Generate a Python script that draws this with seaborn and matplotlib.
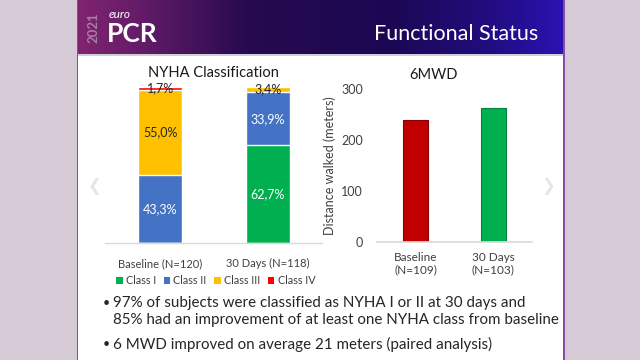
import numpy as np
import pandas as pd
import matplotlib
matplotlib.use("Agg")
import matplotlib.pyplot as plt
from matplotlib.patches import Rectangle, Patch
import seaborn as sns

# ---------------- data ----------------
nyha_groups = ["Baseline (N=120)", "30 Days (N=118)"]
nyha_classes = ["Class I", "Class II", "Class III", "Class IV"]
class_i = [0.0, 62.7]
class_ii = [43.3, 33.9]
class_iii = [55.0, 3.4]
class_iv = [1.7, 0.0]
nyha_labels = [["", "43,3%", "55,0%", "1,7%"], ["62,7%", "33,9%", "3,4%", ""]]

mwd_groups = ["Baseline\n(N=109)", "30 Days\n(N=103)"]
mwd_values = [239, 263]
mwd_ticks = [0, 100, 200, 300]

bullets = [
    "97% of subjects were classified as NYHA I or II at 30 days and\n85% had an improvement of at least one NYHA class from baseline",
    "6 MWD improved on average 21 meters (paired analysis)",
]

sns.set_theme(style="white")
plt.rcParams["font.family"] = ["Lato", "DejaVu Sans"]

W, H = 640, 360
fig = plt.figure(figsize=(6.4, 3.6), dpi=100)
fig.patch.set_facecolor("#d6cad6")

def fx(px):
    return px / W

def fy(py):
    return 1 - py / H

# slide
fig.patches.append(Rectangle((fx(77), 0), fx(564) - fx(77), 1, transform=fig.transFigure,
                             facecolor="white", edgecolor="none", zorder=-10))
fig.patches.append(Rectangle((fx(76.5), 0), fx(1.5), 1, transform=fig.transFigure,
                             facecolor="#8a4aa8", edgecolor="none", zorder=-9))
fig.patches.append(Rectangle((fx(563), 0), fx(1.5), 1, transform=fig.transFigure,
                             facecolor="#8a4aa8", edgecolor="none", zorder=-9))
fig.patches.append(Rectangle((fx(78), fy(55.5)), fx(563) - fx(78), 1.5 / H, transform=fig.transFigure,
                             facecolor="#cfcfd8", edgecolor="none", zorder=-9))

# header gradient
hax = fig.add_axes([fx(78), fy(54), fx(563) - fx(78), 54 / H])
hax.set_zorder(1)
stops = [0.0, 0.12, 0.35, 0.65, 0.85, 1.0]
cols = np.array([[0.50, 0.14, 0.44], [0.40, 0.11, 0.41], [0.15, 0.04, 0.31],
                 [0.11, 0.03, 0.33], [0.13, 0.05, 0.50], [0.17, 0.07, 0.70]])
xs = np.linspace(0, 1, 400)
grad = np.stack([np.interp(xs, stops, cols[:, c]) for c in range(3)], axis=-1)[None, :, :]
hax.imshow(grad, aspect="auto", extent=[0, 1, 0, 1])
hax.set_xlim(0, 1)
hax.set_ylim(0, 1)
hax.axis("off")

def htext(x, y, s, **kw):
    t = fig.text(fx(x), fy(y), s, **kw)
    t.set_zorder(5)
    return t

htext(93, 28, "2021", rotation=90, color="#a77fa6", fontsize=9.5, fontweight="bold",
      ha="center", va="center")
htext(109, 14, "euro", color="white", fontsize=8.5, style="italic", ha="left", va="center")
htext(107, 34, "PCR", color="white", fontsize=19, fontweight="bold", ha="left", va="center")
htext(538, 34, "Functional Status", color="white", fontsize=15.5, ha="right", va="center")

# chevrons
fig.text(fx(95), fy(186), "❮", color="#e6e6e6", fontsize=12, ha="center", va="center",
         family="DejaVu Sans")
fig.text(fx(548), fy(186), "❯", color="#e6e6e6", fontsize=12, ha="center", va="center",
         family="DejaVu Sans")

# ---------------- NYHA stacked ----------------
ax1 = fig.add_axes([fx(105), fy(243), fx(322) - fx(105), (243 - 87) / H])
layers = np.array([class_i, class_ii, class_iii, class_iv])
cum = np.cumsum(layers, axis=0)
nyha_colors = ["#00b050", "#4472c4", "#ffc000", "#ff0000"]
for k in range(3, -1, -1):
    df = pd.DataFrame({"group": nyha_groups, "value": cum[k]})
    sns.barplot(data=df, x="group", y="value", color=nyha_colors[k], width=0.41,
                saturation=1, ax=ax1, zorder=2)
txt_colors = ["white", "white", "#262626", "#262626"]
for g in range(2):
    for k in range(4):
        if layers[k, g] <= 0:
            continue
        mid = cum[k, g] - layers[k, g] / 2
        ax1.text(g, mid, nyha_labels[g][k], ha="center", va="center", fontsize=9,
                 color=txt_colors[k], zorder=5)
ax1.set_ylim(0, 100)
ax1.set_xlim(-0.51, 1.5)
ax1.set_yticks([])
ax1.set_xlabel("")
ax1.set_ylabel("")
for s in ["top", "right", "left"]:
    ax1.spines[s].set_visible(False)
ax1.spines["bottom"].set_color("#d9d9d9")
ax1.spines["bottom"].set_linewidth(1)
ax1.tick_params(axis="x", length=0, labelsize=8, labelcolor="#404040", pad=11)
ax1.set_facecolor("none")
ax1.text((213 - 105) / 217, (243 - 73) / 156, "NYHA Classification", transform=ax1.transAxes,
         fontsize=10.5, color="#1a1a1a", ha="center", va="center")
handles = [Patch(facecolor=c, edgecolor="none", label=l) for c, l in zip(nyha_colors, nyha_classes)]
ax1.legend(handles=handles, loc="center", bbox_to_anchor=(0.51, (243 - 281) / (243 - 87)),
           ncol=4, frameon=False, fontsize=7.8, handlelength=0.6, handleheight=0.6,
           handletextpad=0.3, columnspacing=0.7, labelcolor="#404040")

# ---------------- 6MWD ----------------
ax2 = fig.add_axes([fx(377), fy(242), fx(532) - fx(377), (242 - 89) / H])
df2 = pd.DataFrame({"group": mwd_groups, "value": mwd_values})
sns.barplot(data=df2, x="group", y="value", hue="group", palette=["#c00000", "#00b050"],
            width=0.32, saturation=1, legend=False, ax=ax2, zorder=2)
for p, ec in zip(ax2.patches, ["#8a0000", "#00843c"]):
    p.set_edgecolor(ec)
    p.set_linewidth(0.8)
ax2.set_ylim(0, 300)
ax2.set_xlim(-0.5, 1.5)
ax2.set_yticks(mwd_ticks)
ax2.set_xlabel("")
ax2.set_ylabel("Distance walked (meters)", fontsize=9, color="#404040", labelpad=4)
for s in ["top", "right", "left"]:
    ax2.spines[s].set_visible(False)
ax2.spines["bottom"].set_color("#d9d9d9")
ax2.tick_params(axis="x", length=0, labelsize=8.5, labelcolor="#404040", pad=7)
ax2.tick_params(axis="y", length=0, labelsize=9, labelcolor="#404040", pad=10)
ax2.set_facecolor("none")
ax2.text((434 - 377) / 155, (242 - 75) / 153, "6MWD", transform=ax2.transAxes,
         fontsize=10.5, color="#1a1a1a", ha="center", va="center")

# ---------------- bullets ----------------
bfs = 10.9
fig.text(fx(106), fy(303), "•", fontsize=9, color="#262626", ha="center", va="center")
fig.text(fx(113), fy(311.5), bullets[0], fontsize=bfs, color="#262626", ha="left", va="center",
         linespacing=1.2)
fig.text(fx(106), fy(344), "•", fontsize=9, color="#262626", ha="center", va="center")
fig.text(fx(113), fy(344), bullets[1], fontsize=bfs, color="#262626", ha="left", va="center")

fig.savefig("out.png", dpi=100)
